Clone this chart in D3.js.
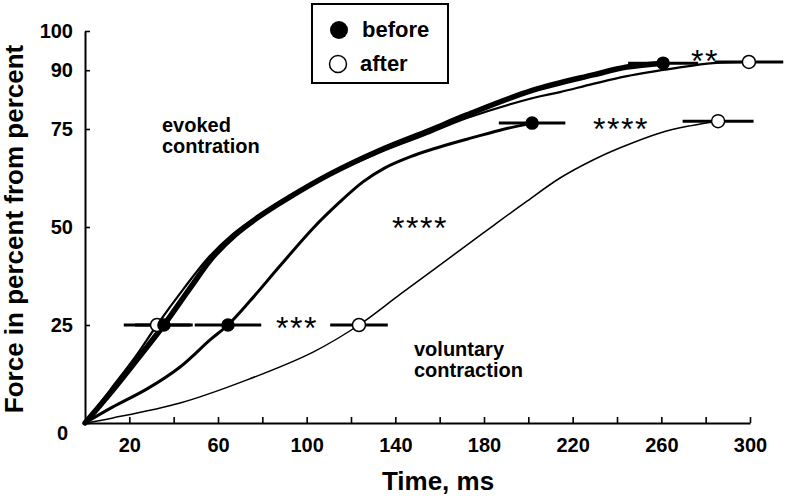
<!DOCTYPE html>
<html lang="en">
<head>
    <meta charset="UTF-8">
    <title>Force development: evoked vs voluntary contraction</title>
    <script src="https://d3js.org/d3.v7.min.js"></script>
    <style>
        body {
            margin: 0;
            background: #fff;
            font-family: "Liberation Sans", Arial, Helvetica, sans-serif;
        }
        svg {
            display: block;
        }
    </style>
</head>
<body>
    <svg id="chart" width="786" height="496"></svg>
    <script>
        // time axis ticks (ms) and force ticks (%)
        const timeTicks = d3.range(20, 301, 20);
        const timeLabels = [20, 60, 100, 140, 180, 220, 260, 300];
        const forceTicks = [0, 25, 50, 75, 90, 100];

        // averaged force curves
        const evokedBeforeT = [0, 12.6, 24.8, 35.6, 47.4, 57.3, 67.7, 78.9, 92.5, 110.5, 133.1, 155.6, 172.3, 202.1, 229.2, 244.5, 260.8];
        const evokedBeforeF = [0, 8.4, 17.1, 25, 34.4, 42.1, 48.0, 52.8, 57.7, 63.5, 69.6, 74.7, 78.6, 84.9, 88.8, 90.8, 91.8];

        const evokedAfterT = [0, 11.3, 23.0, 32.5, 44.7, 55.5, 66.3, 78.0, 92.0, 110.5, 133.1, 155.6, 172.3, 202.1, 214.3, 229.2, 244.5, 267.1, 283.3, 299.5];
        const evokedAfterF = [0, 8.4, 17.1, 25, 34.4, 42.1, 48.0, 52.8, 57.7, 63.3, 69.1, 74.0, 77.8, 82.9, 84.4, 86.5, 88.5, 90.6, 91.8, 92.1];

        const voluntaryBeforeT = [0, 12.6, 28.0, 42.9, 56.4, 64.5, 74.4, 88.0, 102.9, 115.0, 125.4, 135.3, 146.6, 157.0, 172.3, 187.2, 201.7];
        const voluntaryBeforeF = [0, 4.1, 8.7, 14.3, 21.2, 25, 31.1, 40.1, 49.7, 56.4, 61.5, 65.1, 67.9, 69.9, 72.4, 74.7, 76.5];

        const voluntaryAfterT = [0, 12.6, 42.9, 73.1, 102.9, 123.6, 142.1, 157.0, 169.2, 184.1, 199.4, 214.3, 229.2, 241.4, 259.4, 272.9, 285.6];
        const voluntaryAfterF = [0, 1.3, 5.1, 11.0, 18.1, 25, 32.8, 39.0, 44.1, 50.3, 56.6, 62.5, 67.1, 70.2, 74.0, 75.8, 77.0];

        // mean time-to-level with spread (ms)
        const markerGroup = ["evoked", "evoked", "evoked", "evoked", "voluntary", "voluntary", "voluntary", "voluntary"];
        const markerState = ["after", "before", "after", "before", "after", "before", "after", "before"];
        const markerT = [32.5, 35.6, 299.5, 260.8, 123.6, 64.5, 285.6, 201.7];
        const markerF = [25, 25, 92.1, 91.8, 25, 25, 77, 76.5];
        const markerSD = [15, 13, 15.5, 15.8, 13, 15, 16, 15];

        // significance stars
        const sigText = ["***", "****", "****", "**"];
        const sigT = [95.6, 151.1, 241.8, 279.7];
        const sigF = [26, 51.5, 76.8, 94.1];

        const width = 786, height = 496;
        const svg = d3.select("#chart");

        const x = d3.scaleLinear().domain([0, 300]).range([85, 750]);
        const y = d3.scaleLinear().domain([0, 100]).range([423, 31]);

        // axes
        const xAxis = svg.append("g")
            .attr("transform", `translate(0,${y(0)})`)
            .call(d3.axisBottom(x)
                .tickValues(timeTicks)
                .tickSize(-6)
                .tickSizeOuter(0)
                .tickPadding(15)
                .tickFormat(d => timeLabels.includes(d) ? d : ""));

        const yAxis = svg.append("g")
            .attr("transform", `translate(${x(0)},0)`)
            .call(d3.axisLeft(y)
                .tickValues(forceTicks)
                .tickSize(-5)
                .tickSizeOuter(0)
                .tickPadding(12));

        [xAxis, yAxis].forEach(g => {
            g.select(".domain").attr("stroke", "#000").attr("stroke-width", 2);
            g.selectAll(".tick line").attr("stroke", "#000").attr("stroke-width", 1.6);
            g.selectAll(".tick text")
                .attr("fill", "#000")
                .style("font-family", "'Liberation Sans', Arial, sans-serif")
                .style("font-size", "20px")
                .style("font-weight", "bold");
        });
        // the zero label sits below the corner
        yAxis.selectAll(".tick text").filter(d => d === 0)
            .attr("dy", "0.82em").attr("x", -17);

        // axis titles
        svg.append("text")
            .attr("transform", `translate(23,${(y(0) + y(100)) / 2 + 2}) rotate(-90)`)
            .attr("text-anchor", "middle")
            .style("font-size", "26px")
            .style("font-weight", "bold")
            .text("Force in percent from percent");

        svg.append("text")
            .attr("x", 438)
            .attr("y", 490)
            .attr("text-anchor", "middle")
            .style("font-size", "26px")
            .style("font-weight", "bold")
            .text("Time, ms");

        // curves
        const line = d3.line()
            .x(d => x(d[0]))
            .y(d => y(d[1]))
            .curve(d3.curveCatmullRom.alpha(0.5));

        const curves = [
            { t: voluntaryAfterT, f: voluntaryAfterF, w: 1.5 },
            { t: voluntaryBeforeT, f: voluntaryBeforeF, w: 3 },
            { t: evokedAfterT, f: evokedAfterF, w: 2.2 },
            { t: evokedBeforeT, f: evokedBeforeF, w: 5.5 }
        ];

        svg.selectAll(".curve")
            .data(curves)
            .enter()
            .append("path")
            .attr("class", "curve")
            .attr("d", c => line(c.t.map((t, i) => [t, c.f[i]])))
            .attr("fill", "none")
            .attr("stroke", "#000")
            .attr("stroke-width", c => c.w)
            .attr("stroke-linecap", "round");

        // markers with horizontal spread bars
        const markers = markerT.map((t, i) => ({
            t: t, f: markerF[i], sd: markerSD[i], state: markerState[i], group: markerGroup[i]
        }));

        svg.selectAll(".bar")
            .data(markers)
            .enter()
            .append("line")
            .attr("class", "bar")
            .attr("x1", d => x(d.t - d.sd))
            .attr("x2", d => x(d.t + d.sd))
            .attr("y1", d => y(d.f))
            .attr("y2", d => y(d.f))
            .attr("stroke", "#000")
            .attr("stroke-width", 3);

        // open circles first so filled ones sit on top
        const ordered = markers.slice().sort((a, b) => (a.state === "after" ? 0 : 1) - (b.state === "after" ? 0 : 1));
        svg.selectAll(".dot")
            .data(ordered)
            .enter()
            .append("circle")
            .attr("class", "dot")
            .attr("cx", d => x(d.t))
            .attr("cy", d => y(d.f))
            .attr("r", d => d.state === "after" ? 6.5 : 6)
            .attr("fill", d => d.state === "after" ? "#fff" : "#000")
            .attr("stroke", "#000")
            .attr("stroke-width", 1.5);

        // significance stars
        svg.selectAll(".sig")
            .data(sigText)
            .enter()
            .append("text")
            .attr("class", "sig")
            .attr("x", (d, i) => x(sigT[i]))
            .attr("y", (d, i) => y(sigF[i]) + 18)
            .attr("text-anchor", "middle")
            .style("font-size", "32px")
            .style("letter-spacing", "1.5px")
            .text(d => d);

        // curve captions
        const caption = (px, py, lines) => {
            const t = svg.append("text")
                .style("font-size", "20px")
                .style("font-weight", "bold");
            lines.forEach((s, i) => {
                t.append("tspan").attr("x", px).attr("y", py + i * 21).text(s);
            });
        };
        caption(162, 132, ["evoked", "contration"]);
        caption(414, 356, ["voluntary", "contraction"]);

        // legend
        const legend = svg.append("g");
        legend.append("rect")
            .attr("x", 312).attr("y", 4)
            .attr("width", 136).attr("height", 79)
            .attr("fill", "#fff")
            .attr("stroke", "#000")
            .attr("stroke-width", 2);
        legend.append("circle")
            .attr("cx", 339).attr("cy", 30).attr("r", 9)
            .attr("fill", "#000");
        legend.append("circle")
            .attr("cx", 338).attr("cy", 64).attr("r", 8.5)
            .attr("fill", "#fff").attr("stroke", "#000").attr("stroke-width", 1.5);
        legend.append("text")
            .attr("x", 362).attr("y", 37)
            .style("font-size", "22px").style("font-weight", "bold")
            .text("before");
        legend.append("text")
            .attr("x", 360).attr("y", 71)
            .style("font-size", "22px").style("font-weight", "bold")
            .text("after");
    </script>
</body>
</html>
